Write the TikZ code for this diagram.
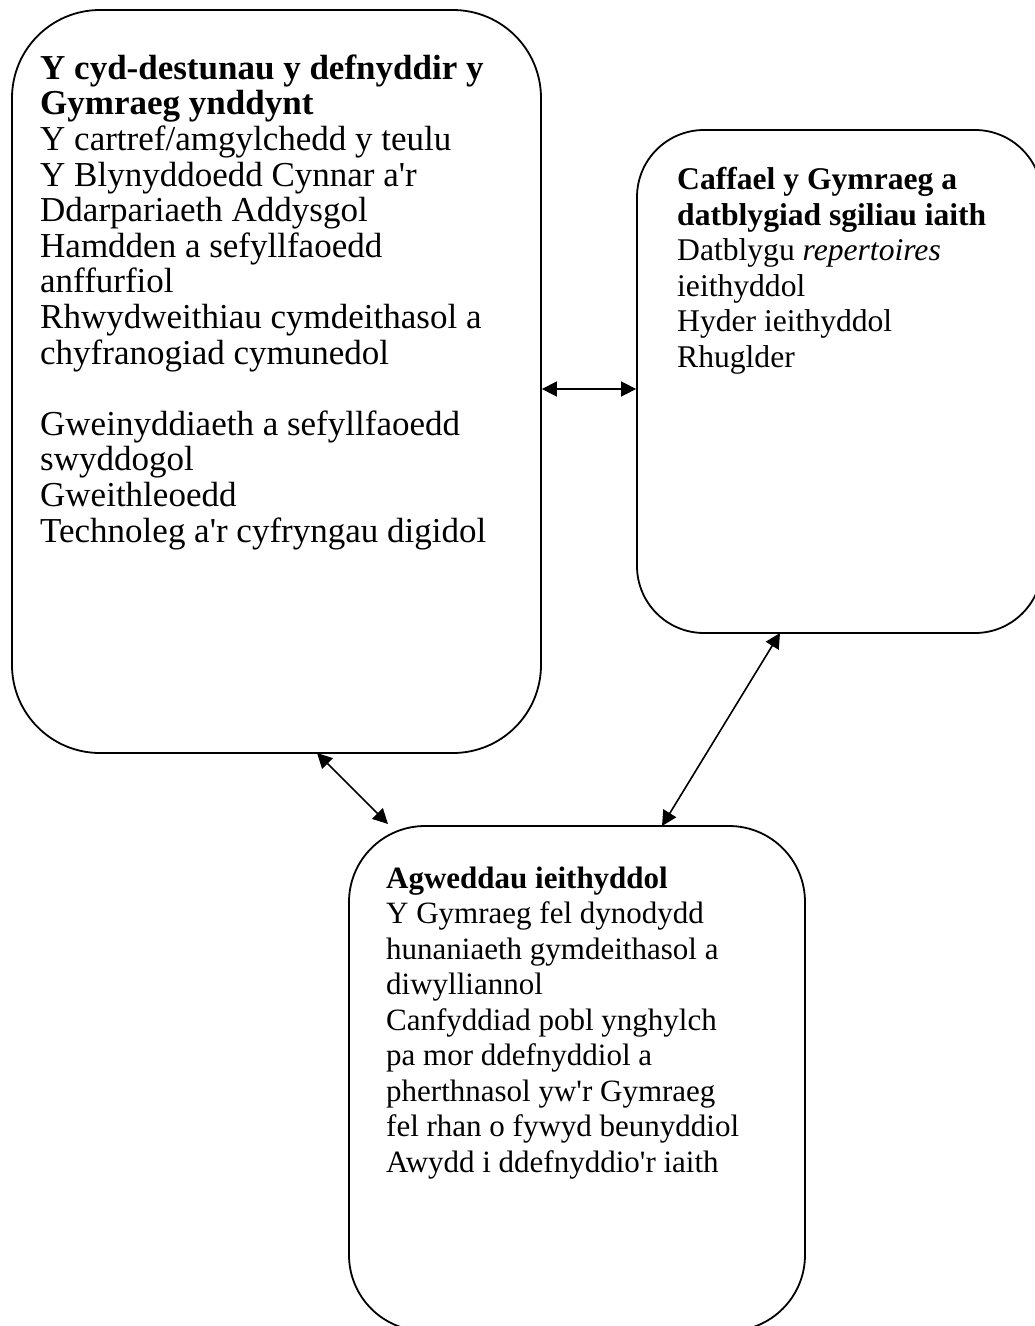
\documentclass[tikz,border=0pt]{standalone}
\usepackage{fontspec}
\setmainfont{Liberation Serif}
\usetikzlibrary{arrows.meta}
\newcommand{\ap}{\textquotesingle}
\begin{document}
\begin{tikzpicture}[x=1pt,y=-1pt,
  box/.style={draw, line width=1.8pt, inner sep=0pt},
  txt/.style={inner sep=0pt, align=left, font=\fontsize{31}{35.5}\selectfont},
  arr/.style={line width=1.6pt, {Triangle[length=15pt,width=15pt]}-{Triangle[length=15pt,width=15pt]}}]
\useasboundingbox (0,0) rectangle (1035,1326);
\clip (0,0) rectangle (1035,1326);
\fill[white] (0,0) rectangle (1035,1326);
\node[box, rounded corners=88pt, minimum width=529pt, minimum height=743pt] (A) at (276.5,381.5) {};
\node[box, rounded corners=67pt, minimum width=405pt, minimum height=503pt] (B) at (839.5,381.5) {};
\node[box, rounded corners=76pt, minimum width=456pt, minimum height=505pt] (C) at (577,1078.5) {};
% base anchor = baseline of last line
\node[txt, font=\fontsize{35}{35.6}\selectfont, anchor=base west] (ta) at (40,542) {\textbf{Y cyd-destunau y defnyddir y}\\
\textbf{Gymraeg ynddynt}\\
Y cartref/amgylchedd y teulu\\
Y Blynyddoedd Cynnar a\ap r\\
Ddarpariaeth Addysgol\\
Hamdden a sefyllfaoedd\\
anffurfiol\\
Rhwydweithiau cymdeithasol a\\
chyfranogiad cymunedol\\[35.6pt]
Gweinyddiaeth a sefyllfaoedd\\
swyddogol\\
Gweithleoedd\\
Technoleg a\ap r cyfryngau digidol};
\node[txt, font=\fontsize{31.6}{35.5}\selectfont, anchor=base west] (tb) at (677,367) {\textbf{Caffael y Gymraeg a}\\
\textbf{datblygiad sgiliau iaith}\\
Datblygu \textit{repertoires}\\
ieithyddol\\
Hyder ieithyddol\\
Rhuglder};
\node[txt, anchor=base west] (tc) at (386,1172) {\textbf{Agweddau ieithyddol}\\
Y Gymraeg fel dynodydd\\
hunaniaeth gymdeithasol a\\
diwylliannol\\
Canfyddiad pobl ynghylch\\
pa mor ddefnyddiol a\\
pherthnasol yw\ap r Gymraeg\\
fel rhan o fywyd beunyddiol\\
Awydd i ddefnyddio\ap r iaith};
\coordinate (h) at (0,389);
\coordinate (a1) at (317,753);
\coordinate (c1) at (388,824);
\coordinate (b1) at (780,633);
\coordinate (c2) at (662,826);
\draw[arr] (A.east |- h) -- (B.west |- h);
\draw[arr] (a1) -- (c1);
\draw[arr] (b1) -- (c2);
\end{tikzpicture}
\end{document}
